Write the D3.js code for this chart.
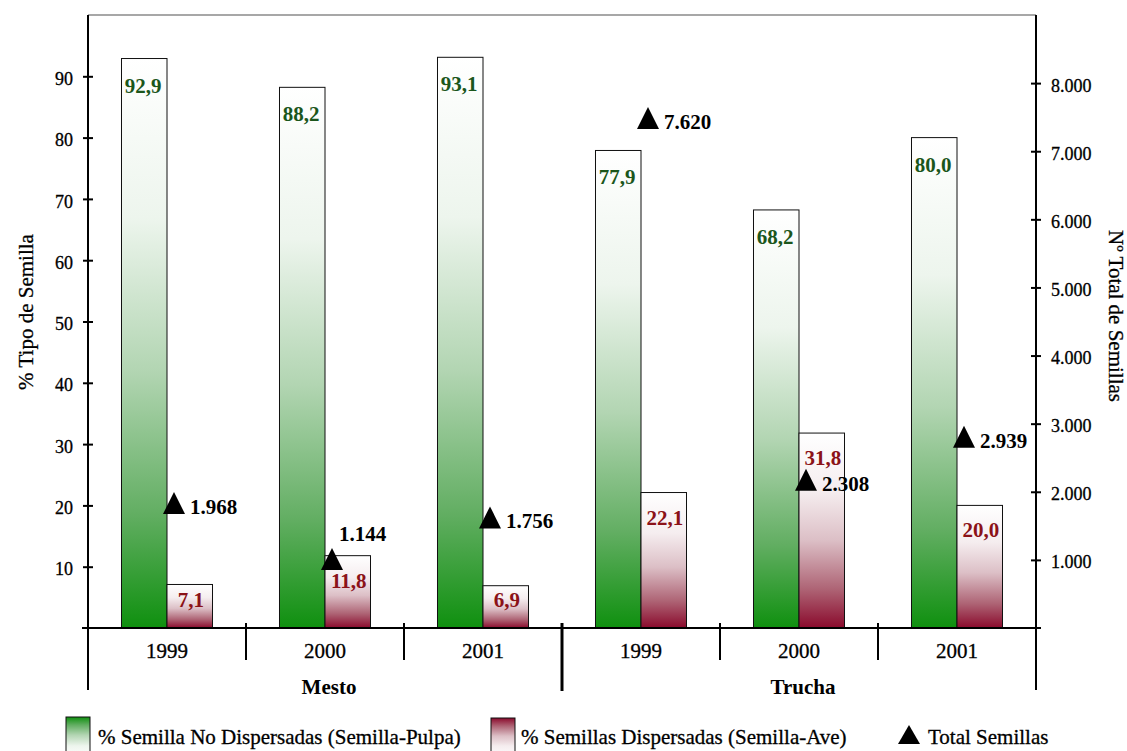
<!DOCTYPE html>
<html>
<head>
<meta charset="utf-8">
<script src="https://cdn.jsdelivr.net/npm/d3@7"></script>
<style>
  html, body { margin: 0; padding: 0; background: #fff; }
  svg { display: block; }
  svg text { font-family: "Liberation Serif", "Times New Roman", serif; }
  svg text.reg { stroke: #000; stroke-width: 0.3px; }
</style>
</head>
<body>
<svg id="chart" width="1127" height="751"></svg>
<script>
// Seed fate by site and year
const sites = ["Mesto", "Trucha"];
const years = ["1999", "2000", "2001"];
const categories = ["Mesto-1999", "Mesto-2000", "Mesto-2001", "Trucha-1999", "Trucha-2000", "Trucha-2001"];
const noDispersadas = [92.9, 88.2, 93.1, 77.9, 68.2, 80.0];   // % semilla-pulpa
const dispersadas = [7.1, 11.8, 6.9, 22.1, 31.8, 20.0];        // % semilla-ave
const totalSemillas = [1968, 1144, 1756, 7620, 2308, 2939];
const leftTicks = [10, 20, 30, 40, 50, 60, 70, 80, 90];
const rightTicks = [1000, 2000, 3000, 4000, 5000, 6000, 7000, 8000];
const seriesKeys = ["no", "si"];
const legendLabels = ["% Semilla No Dispersadas (Semilla-Pulpa)", "% Semillas Dispersadas (Semilla-Ave)", "Total Semillas"];

const FONT = "'Liberation Serif', 'Times New Roman', serif";
const esLocale = d3.formatLocale({ decimal: ",", thousands: ".", grouping: [3], currency: ["", "€"] });
const fmtPct = esLocale.format(",.1f");
const fmtInt = esLocale.format(",d");

const svg = d3.select("#chart").attr("font-family", FONT);
const plotLeft = 88, plotRight = 1036, plotTop = 15, zeroY = 628;

const x0 = d3.scaleBand().domain(categories).range([plotLeft, plotRight]).padding(0);
const x1 = d3.scaleBand().domain(seriesKeys).range([0, x0.bandwidth()]).paddingInner(0).paddingOuter(0.736);
const yL = d3.scaleLinear().domain([0, 100]).range([zeroY, plotTop]);
const yR = d3.scaleLinear().domain([0, 9000]).range([zeroY, plotTop]);

// gradients (white at the top, fading into the series colour at the base)
const defs = svg.append("defs");
function grad(id, stops, reverse) {
  const g = defs.append("linearGradient").attr("id", id)
    .attr("x1", 0).attr("y1", reverse ? 1 : 0).attr("x2", 0).attr("y2", reverse ? 0 : 1);
  stops.forEach(([o, c]) => g.append("stop").attr("offset", o).attr("stop-color", c));
}
const greenStops = [[0, "#ffffff"], [0.28, "#edf5ed"], [0.55, "#b2d5b2"], [0.8, "#62ae62"], [1, "#0f900f"]];
const redStops = [[0, "#ffffff"], [0.3, "#f5edef"], [0.55, "#dcbfc6"], [0.8, "#ae6475"], [1, "#8a0a2c"]];
grad("gGreen", greenStops, false);
grad("gRed", redStops, false);
grad("gGreenLeg", greenStops, true);
grad("gRedLeg", redStops, true);

// top frame line
svg.append("line").attr("x1", plotLeft).attr("x2", plotRight).attr("y1", plotTop).attr("y2", plotTop)
  .attr("stroke", "#8a8a8a").attr("stroke-width", 1.5);

const rows = categories.map((c, i) => ({ cat: c, no: noDispersadas[i], si: dispersadas[i], total: totalSemillas[i] }));

// bars
const groups = svg.append("g").selectAll("g").data(rows).join("g")
  .attr("transform", d => `translate(${x0(d.cat)},0)`);

groups.append("rect")
  .attr("x", x1("no")).attr("width", x1.bandwidth())
  .attr("y", d => yL(d.no)).attr("height", d => yL(0) - yL(d.no))
  .attr("fill", "url(#gGreen)").attr("stroke", "#111").attr("stroke-width", 1);

groups.append("rect")
  .attr("x", x1("si")).attr("width", x1.bandwidth())
  .attr("y", d => yL(d.si)).attr("height", d => yL(0) - yL(d.si))
  .attr("fill", "url(#gRed)").attr("stroke", "#111").attr("stroke-width", 1);

// value labels
groups.append("text")
  .attr("x", x1("no") + x1.bandwidth() / 2 - 1)
  .attr("y", d => yL(d.no) + 34)
  .attr("text-anchor", "middle").attr("font-weight", "bold").attr("font-size", 21)
  .attr("fill", "#1b561b").text(d => fmtPct(d.no));

groups.append("text")
  .attr("x", x1("si") + x1.bandwidth() / 2 + 1)
  .attr("y", d => Math.min(yL(d.si) + 32, yL(0) - 21))
  .attr("text-anchor", "middle").attr("font-weight", "bold").attr("font-size", 21)
  .attr("fill", "#8b1218").text(d => fmtPct(d.si));

// total seeds (right axis) triangles
const triW = 22, triH = 22, triDx = 7;
groups.append("path")
  .attr("d", d => {
    const cx = x0.bandwidth() / 2 + triDx, ty = yR(d.total) - 2;
    return `M${cx},${ty}L${cx + triW / 2},${ty + triH}L${cx - triW / 2},${ty + triH}Z`;
  })
  .attr("fill", "#000");

groups.append("text")
  .each(function (d) {
    const cx = x0.bandwidth() / 2 + triDx, ty = yR(d.total) - 2;
    const redTop = yL(d.si);
    const straddles = ty < redTop && ty + triH > redTop;
    d3.select(this)
      .attr("x", straddles ? cx + 7 : cx + 16)
      .attr("y", straddles ? ty - 7 : ty + triH);
  })
  .attr("font-weight", "bold").attr("font-size", 21).attr("fill", "#000")
  .text(d => fmtInt(d.total));

// left axis
const axL = svg.append("g").attr("transform", `translate(${plotLeft},0)`)
  .call(d3.axisLeft(yL).tickValues(leftTicks).tickSize(5).tickPadding(10));
axL.attr("font-family", FONT);
axL.select(".domain").remove();
axL.selectAll(".tick line").attr("x1", -5).attr("x2", 5).attr("stroke", "#000").attr("stroke-width", 2);
axL.selectAll(".tick text").attr("class", "reg").attr("font-size", 18).attr("fill", "#000").attr("dy", "0.45em");
svg.append("line").attr("x1", plotLeft).attr("x2", plotLeft).attr("y1", plotTop).attr("y2", 690).attr("stroke", "#000").attr("stroke-width", 2);

// right axis
const axR = svg.append("g").attr("transform", `translate(${plotRight},0)`)
  .call(d3.axisRight(yR).tickValues(rightTicks).tickSize(5).tickPadding(10).tickFormat(fmtInt));
axR.attr("font-family", FONT);
axR.select(".domain").remove();
axR.selectAll(".tick line").attr("x1", -5).attr("x2", 5).attr("stroke", "#000").attr("stroke-width", 2);
axR.selectAll(".tick text").attr("class", "reg").attr("font-size", 18).attr("fill", "#000").attr("dy", "0.45em");
svg.append("line").attr("x1", plotRight).attr("x2", plotRight).attr("y1", plotTop).attr("y2", 690).attr("stroke", "#000").attr("stroke-width", 2);

// baseline
svg.append("line").attr("x1", plotLeft - 6).attr("x2", plotRight + 5).attr("y1", zeroY).attr("y2", zeroY)
  .attr("stroke", "#000").attr("stroke-width", 2);

// category separators
categories.slice(1).forEach((c, i) => {
  const isSiteBreak = (i + 1) % years.length === 0;
  svg.append("line").attr("x1", x0(c)).attr("x2", x0(c))
    .attr("y1", zeroY - 5).attr("y2", isSiteBreak ? 691 : 660)
    .attr("stroke", "#000").attr("stroke-width", isSiteBreak ? 3 : 2);
});

// year labels
svg.append("g").selectAll("text").data(categories).join("text")
  .attr("class", "reg")
  .attr("x", c => x0(c) + x0.bandwidth() / 2)
  .attr("y", 658)
  .attr("text-anchor", "middle").attr("font-size", 21).attr("fill", "#000")
  .text((c, i) => years[i % years.length]);

// site labels
svg.append("g").selectAll("text").data(sites).join("text")
  .attr("x", (s, i) => {
    const a = x0(categories[i * years.length]);
    const b = x0(categories[i * years.length + years.length - 1]) + x0.bandwidth();
    return (a + b) / 2 + 4;
  })
  .attr("y", 694)
  .attr("text-anchor", "middle").attr("font-size", 21).attr("font-weight", "bold").attr("fill", "#000")
  .text(s => s);

// axis titles
svg.append("text").attr("class", "reg").attr("transform", "translate(33,312) rotate(-90)")
  .attr("text-anchor", "middle").attr("font-size", 21).attr("fill", "#000").text("% Tipo de Semilla");
svg.append("text").attr("class", "reg").attr("transform", "translate(1109,316) rotate(90)")
  .attr("text-anchor", "middle").attr("font-size", 21).attr("fill", "#000").text("Nº Total de Semillas");

// legend
const leg = svg.append("g");
leg.append("rect").attr("x", 66).attr("y", 717).attr("width", 24).attr("height", 40)
  .attr("fill", "url(#gGreenLeg)").attr("stroke", "#111").attr("stroke-width", 1);
leg.append("text").attr("class", "reg").attr("x", 98).attr("y", 744).attr("font-size", 21).attr("fill", "#000").text(legendLabels[0]);
leg.append("rect").attr("x", 491).attr("y", 718).attr("width", 24).attr("height", 40)
  .attr("fill", "url(#gRedLeg)").attr("stroke", "#111").attr("stroke-width", 1);
leg.append("text").attr("class", "reg").attr("x", 521).attr("y", 744).attr("font-size", 21).attr("fill", "#000").text(legendLabels[1]);
leg.append("path").attr("d", "M909,725L920,744L898,744Z").attr("fill", "#000");
leg.append("text").attr("class", "reg").attr("x", 928).attr("y", 744).attr("font-size", 21).attr("fill", "#000").text(legendLabels[2]);
</script>
</body>
</html>
